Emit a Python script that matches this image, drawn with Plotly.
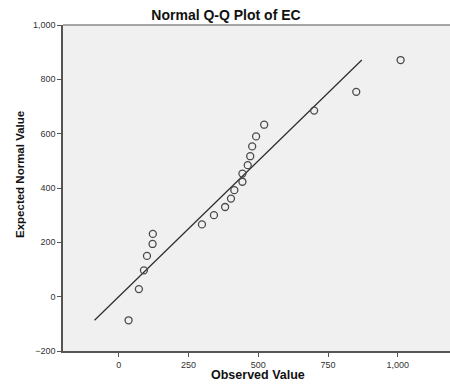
import plotly.graph_objects as go

# Observed EC values (sorted) and their expected normal quantiles
observed = [35, 72, 90, 101, 121, 122, 298, 341, 381, 402, 414,
            443, 443, 462, 471, 478, 492, 521, 700, 851, 1010]
expected = [-87, 28, 97, 150, 194, 231, 266, 300, 330, 361, 392,
            423, 453, 484, 517, 553, 590, 633, 685, 754, 871]

x_ticks = [0, 250, 500, 750, 1000]
y_ticks = [-200, 0, 200, 400, 600, 800, 1000]

FONT = "Liberation Sans, Arial, sans-serif"

W, H = 450, 390
ML, MR, MT, MB = 63, 0, 25, 39
PW, PH = W - ML - MR, H - MT - MB


def px_x(px):
    """Pixel column -> paper coordinate (relative to plot area)."""
    return (px - ML) / PW


def px_y(py):
    """Pixel row -> paper coordinate (relative to plot area)."""
    return (H - MB - py) / PH


fig = go.Figure()

# Reference line y = x across the expected range
lo, hi = min(expected), max(expected)
fig.add_trace(go.Scatter(
    x=[lo, hi], y=[lo, hi], mode="lines",
    line=dict(color="#2b2b2b", width=1.2),
    hoverinfo="skip", showlegend=False,
))

fig.add_trace(go.Scatter(
    x=observed, y=expected, mode="markers",
    marker=dict(symbol="circle-open", size=7, color="#4a4a4a",
                line=dict(color="#4a4a4a", width=1.3)),
    showlegend=False,
))

axis_common = dict(
    showgrid=False, zeroline=False,
    showline=True, linecolor="#555555", linewidth=1.5,
    ticks="outside", ticklen=4, tickcolor="#555555", tickwidth=1,
    tickformat=",d",
    tickfont=dict(family=FONT, size=9, color="#333333"),
)

fig.update_xaxes(range=[-200, 1187], tickvals=x_ticks, **axis_common)
fig.update_yaxes(range=[-200, 1000], tickvals=y_ticks, **axis_common)

fig.update_layout(
    width=W, height=H,
    margin=dict(l=ML, r=MR, t=MT, b=MB),
    paper_bgcolor="white", plot_bgcolor="#f0f0f0",
    title=dict(text="<b>Normal Q-Q Plot of EC</b>", x=226 / W, xanchor="center",
               y=1 - 15 / H, yanchor="middle",
               font=dict(family=FONT, size=14, color="#111111")),
    shapes=[dict(type="line", xref="paper", yref="paper",
                 x0=0, x1=1, y0=1, y1=1,
                 line=dict(color="#8a8a8a", width=1.5))],
    annotations=[
        dict(text="<b>Observed Value</b>", xref="paper", yref="paper",
             x=px_x(258), y=px_y(375.5), xanchor="center", yanchor="middle",
             borderpad=0, showarrow=False,
             font=dict(family=FONT, size=12.5, color="#111111")),
        dict(text="<b>Expected Normal Value</b>", xref="paper", yref="paper",
             x=px_x(20), y=px_y(175), xanchor="center", yanchor="middle",
             textangle=-90, showarrow=False,
             font=dict(family=FONT, size=11.5, color="#111111")),
    ],
)

fig.write_html("out.html")
